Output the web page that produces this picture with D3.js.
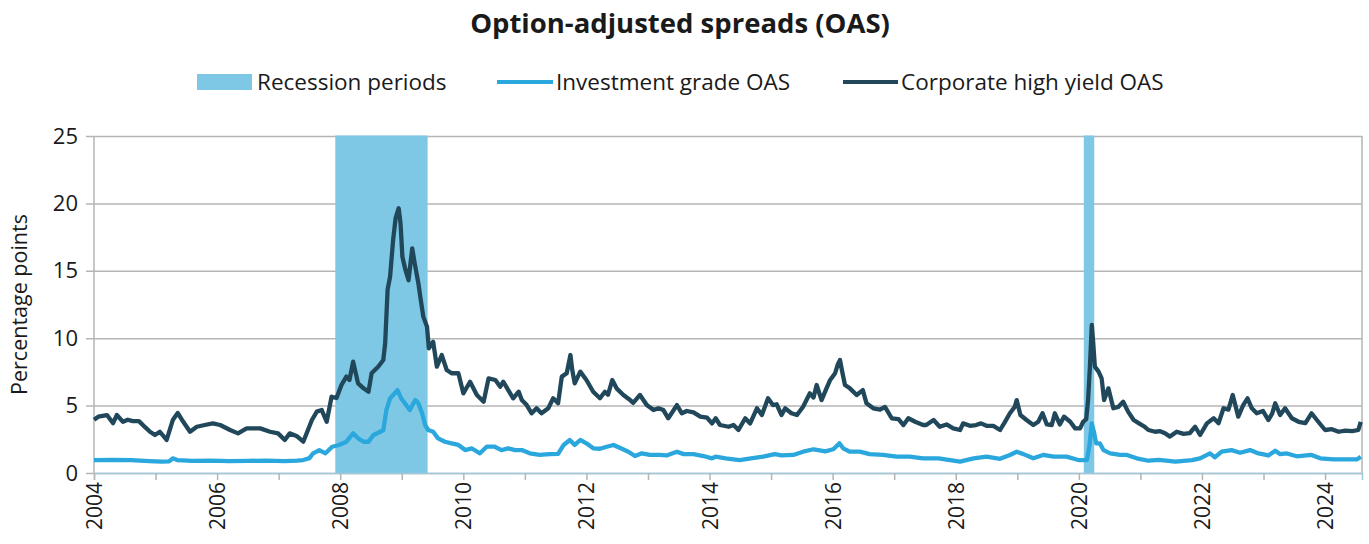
<!DOCTYPE html>
<html>
<head>
<meta charset="utf-8">
<script src="https://cdn.jsdelivr.net/npm/d3@7"></script>
<style>
  body { margin: 0; background: #fff; }
  svg text { font-family: "Open Sans", "Noto Sans", sans-serif; fill: #1a1a1a; }
</style>
</head>
<body>
<svg id="chart" width="1369" height="544"></svg>
<script>
// recession periods, decimal years
const recessions = [[2007.92, 2009.42], [2020.08, 2020.25]];

// corporate high yield OAS (percentage points)
const hyYears = [2004.00,2004.07,2004.21,2004.31,2004.37,2004.47,2004.55,2004.63,2004.73,2004.83,2004.91,2004.99,2005.07,2005.18,2005.28,2005.36,2005.45,2005.56,2005.67,2005.80,2005.93,2006.05,2006.21,2006.34,2006.48,2006.70,2006.86,2006.99,2007.10,2007.18,2007.29,2007.40,2007.54,2007.62,2007.70,2007.78,2007.86,2007.94,2008.02,2008.10,2008.15,2008.21,2008.29,2008.38,2008.46,2008.51,2008.62,2008.70,2008.73,2008.77,2008.81,2008.86,2008.90,2008.95,2008.98,2009.01,2009.06,2009.11,2009.17,2009.21,2009.27,2009.31,2009.35,2009.41,2009.44,2009.51,2009.57,2009.65,2009.73,2009.81,2009.92,2010.00,2010.11,2010.22,2010.33,2010.41,2010.52,2010.60,2010.65,2010.73,2010.81,2010.90,2010.95,2011.03,2011.11,2011.19,2011.27,2011.38,2011.46,2011.54,2011.60,2011.68,2011.74,2011.77,2011.81,2011.90,2012.00,2012.11,2012.22,2012.30,2012.35,2012.42,2012.49,2012.60,2012.71,2012.76,2012.87,2012.98,2013.09,2013.17,2013.25,2013.33,2013.47,2013.55,2013.63,2013.74,2013.85,2013.96,2014.04,2014.10,2014.17,2014.31,2014.39,2014.47,2014.58,2014.66,2014.77,2014.85,2014.95,2015.03,2015.09,2015.17,2015.23,2015.33,2015.42,2015.52,2015.63,2015.69,2015.74,2015.82,2015.90,2015.96,2016.04,2016.08,2016.12,2016.15,2016.20,2016.28,2016.39,2016.49,2016.55,2016.66,2016.77,2016.85,2016.96,2017.07,2017.15,2017.23,2017.34,2017.47,2017.52,2017.64,2017.74,2017.85,2017.96,2018.07,2018.12,2018.23,2018.33,2018.41,2018.50,2018.61,2018.72,2018.80,2018.88,2018.96,2018.99,2019.05,2019.15,2019.26,2019.34,2019.41,2019.48,2019.56,2019.61,2019.69,2019.76,2019.86,2019.94,2020.02,2020.07,2020.12,2020.15,2020.18,2020.21,2020.23,2020.26,2020.32,2020.37,2020.41,2020.48,2020.56,2020.64,2020.72,2020.80,2020.89,2020.99,2021.07,2021.13,2021.24,2021.32,2021.40,2021.48,2021.59,2021.70,2021.80,2021.89,2021.97,2022.08,2022.19,2022.27,2022.35,2022.43,2022.50,2022.59,2022.67,2022.74,2022.81,2022.89,2022.99,2023.08,2023.14,2023.19,2023.27,2023.35,2023.46,2023.57,2023.68,2023.78,2023.89,2024.00,2024.11,2024.22,2024.33,2024.44,2024.54,2024.58];
const hyValues = [3.95,4.18,4.30,3.70,4.30,3.80,3.95,3.85,3.85,3.40,3.06,2.82,3.06,2.45,3.93,4.45,3.80,3.06,3.43,3.56,3.68,3.56,3.19,2.94,3.31,3.31,3.06,2.94,2.45,2.94,2.75,2.32,3.93,4.55,4.67,3.80,5.66,5.56,6.53,7.15,6.90,8.26,6.65,6.28,6.03,7.40,7.90,8.38,9.60,13.60,14.56,17.30,18.90,19.64,18.50,16.05,15.06,14.30,16.67,15.56,14.07,12.80,11.60,10.85,9.25,9.74,7.89,8.75,7.64,7.40,7.40,5.91,6.77,5.79,5.29,7.02,6.90,6.40,6.77,6.15,5.54,6.03,5.41,5.04,4.43,4.80,4.43,4.80,5.54,5.17,7.15,7.40,8.75,7.64,6.65,7.52,6.90,6.03,5.54,6.03,5.80,6.90,6.28,5.79,5.41,5.20,5.79,5.04,4.67,4.80,4.67,4.06,5.04,4.43,4.60,4.50,4.18,4.10,3.68,4.06,3.56,3.43,3.56,3.19,4.06,3.68,4.80,4.30,5.54,5.04,5.10,4.30,4.80,4.43,4.30,4.92,5.91,5.60,6.53,5.41,6.28,6.90,7.40,8.01,8.38,7.64,6.53,6.28,5.79,6.15,5.17,4.80,4.70,4.90,4.06,4.00,3.56,4.06,3.80,3.56,3.56,3.93,3.43,3.60,3.31,3.19,3.68,3.50,3.56,3.68,3.50,3.50,3.19,3.80,4.43,4.92,5.41,4.30,3.93,3.56,3.80,4.43,3.60,3.56,4.43,3.60,4.18,3.80,3.31,3.31,3.80,4.00,5.41,7.89,10.98,9.87,7.89,7.52,7.02,5.41,6.28,4.80,4.90,5.29,4.55,3.93,3.65,3.43,3.19,3.06,3.10,2.95,2.70,3.06,2.90,2.95,3.43,2.82,3.68,4.06,3.70,4.80,4.70,5.79,4.18,5.04,5.54,4.80,4.43,4.60,3.93,4.40,5.17,4.30,4.80,4.06,3.80,3.70,4.43,3.80,3.19,3.25,3.06,3.15,3.10,3.19,3.80];

// investment grade OAS (percentage points)
const igYears = [2004.00,2004.30,2004.60,2004.90,2005.10,2005.22,2005.28,2005.36,2005.60,2005.90,2006.20,2006.50,2006.80,2007.10,2007.30,2007.40,2007.50,2007.56,2007.66,2007.76,2007.87,2007.98,2008.10,2008.21,2008.29,2008.38,2008.46,2008.54,2008.65,2008.70,2008.75,2008.81,2008.86,2008.93,2008.99,2009.05,2009.13,2009.22,2009.27,2009.33,2009.38,2009.43,2009.51,2009.59,2009.70,2009.81,2009.92,2010.03,2010.14,2010.27,2010.38,2010.51,2010.62,2010.73,2010.84,2010.95,2011.08,2011.24,2011.40,2011.54,2011.63,2011.73,2011.81,2011.90,2012.00,2012.11,2012.22,2012.33,2012.44,2012.55,2012.68,2012.79,2012.90,2013.03,2013.19,2013.30,2013.47,2013.58,2013.74,2013.90,2014.04,2014.10,2014.26,2014.49,2014.70,2014.87,2015.06,2015.17,2015.36,2015.52,2015.69,2015.79,2015.88,2016.01,2016.11,2016.17,2016.28,2016.44,2016.60,2016.82,2017.04,2017.25,2017.47,2017.72,2018.07,2018.29,2018.50,2018.72,2018.88,2018.99,2019.10,2019.26,2019.42,2019.59,2019.80,2019.99,2020.13,2020.17,2020.21,2020.25,2020.28,2020.34,2020.40,2020.51,2020.67,2020.78,2020.94,2021.13,2021.30,2021.57,2021.84,2021.97,2022.13,2022.21,2022.32,2022.48,2022.62,2022.78,2022.92,2023.08,2023.19,2023.27,2023.38,2023.54,2023.78,2023.92,2024.14,2024.36,2024.52,2024.58];
const igValues = [0.96,0.98,0.96,0.88,0.84,0.86,1.09,0.95,0.90,0.92,0.88,0.90,0.92,0.88,0.92,0.96,1.10,1.46,1.70,1.46,1.95,2.08,2.32,2.94,2.57,2.32,2.32,2.82,3.06,3.18,4.67,5.54,5.79,6.15,5.54,5.17,4.67,5.41,5.17,4.43,3.56,3.19,3.06,2.57,2.32,2.20,2.08,1.70,1.82,1.46,1.95,1.95,1.70,1.82,1.70,1.70,1.46,1.34,1.40,1.42,2.08,2.45,2.08,2.45,2.20,1.83,1.80,1.95,2.08,1.85,1.58,1.26,1.46,1.34,1.34,1.30,1.58,1.40,1.40,1.26,1.09,1.21,1.09,0.96,1.10,1.21,1.40,1.30,1.34,1.58,1.76,1.68,1.60,1.76,2.20,1.83,1.58,1.58,1.40,1.34,1.21,1.21,1.09,1.09,0.84,1.09,1.21,1.05,1.34,1.58,1.40,1.09,1.34,1.21,1.21,0.96,0.96,1.95,3.68,2.94,2.20,2.20,1.70,1.46,1.34,1.34,1.09,0.91,0.98,0.84,0.95,1.09,1.46,1.17,1.58,1.70,1.50,1.70,1.45,1.30,1.65,1.40,1.45,1.24,1.34,1.09,1.01,1.01,1.01,1.21];

const yTicks = [0, 5, 10, 15, 20, 25];
const xLabelYears = [2004, 2006, 2008, 2010, 2012, 2014, 2016, 2018, 2020, 2022, 2024];
const legendLabels = ['Recession periods', 'Investment grade OAS', 'Corporate high yield OAS'];

const colRecession = '#7fc8e5';
const colIG = '#2aa7dc';
const colHY = '#21475b';
const colGrid = '#b5b5b5';

const margin = {top: 136, right: 7, bottom: 71, left: 94};
const width = 1369, height = 544;

const svg = d3.select('#chart');

const x = d3.scaleLinear().domain([2004, 2024.6]).range([margin.left, width - margin.right]);
const y = d3.scaleLinear().domain([0, 25]).range([height - margin.bottom, margin.top]);

// title
svg.append('text')
  .attr('x', 680).attr('y', 33)
  .attr('text-anchor', 'middle')
  .style('font-size', '27.5px').style('font-weight', 'bold')
  .text('Option-adjusted spreads (OAS)');

// y gridlines + labels
const yAxis = d3.axisLeft(y).tickValues(yTicks)
  .tickSize(-(width - margin.left - margin.right))
  .tickPadding(16);
const gy = svg.append('g').attr('transform', `translate(${margin.left},0)`).call(yAxis);
gy.select('.domain').remove();
gy.selectAll('.tick line').attr('x1', -8).style('stroke', colGrid).style('stroke-width', 1.5);
gy.selectAll('.tick text').style('font-size', '22px').style('fill', '#1a1a1a');

// recession bands, drawn over the gridlines
svg.append('g').selectAll('rect')
  .data(recessions)
  .enter().append('rect')
  .attr('x', d => x(d[0]))
  .attr('width', d => x(d[1]) - x(d[0]))
  .attr('y', y(25) - 0.5)
  .attr('height', y(0) - y(25) + 0.5)
  .style('fill', colRecession);

// left and right frame lines
svg.append('line')
  .attr('x1', margin.left).attr('x2', margin.left)
  .attr('y1', y(25)).attr('y2', y(0))
  .style('stroke', colGrid).style('stroke-width', 1.5);
svg.append('line')
  .attr('x1', width - margin.right).attr('x2', width - margin.right)
  .attr('y1', y(25)).attr('y2', y(0))
  .style('stroke', colGrid).style('stroke-width', 1.5);

// x axis
const allYears = d3.range(2004, 2025);
const xAxis = d3.axisBottom(x).tickValues(allYears).tickSize(7)
  .tickFormat(d => xLabelYears.includes(d) ? d : '');
const gx = svg.append('g').attr('transform', `translate(0,${y(0)})`).call(xAxis);
gx.select('.domain').style('stroke', '#9ec9dc').style('stroke-width', 1.5);
gx.selectAll('.tick line').style('stroke', colGrid).style('stroke-width', 1.5);
gx.selectAll('.tick text')
  .style('font-size', '21px').style('fill', '#1a1a1a')
  .attr('text-anchor', 'end')
  .attr('transform', 'rotate(-90)')
  .attr('x', -9).attr('y', 0).attr('dy', '0.36em');

// y axis title
svg.append('text')
  .attr('transform', `translate(27,${(y(0) + y(25)) / 2}) rotate(-90)`)
  .attr('text-anchor', 'middle')
  .style('font-size', '21.5px')
  .text('Percentage points');

// lines
const line = d3.line().x(d => x(d[0])).y(d => y(d[1]));
const igData = igYears.map((yr, i) => [yr, igValues[i]]);
const hyData = hyYears.map((yr, i) => [yr, hyValues[i]]);

svg.append('path').datum(igData)
  .attr('d', line)
  .style('fill', 'none').style('stroke', colIG)
  .style('stroke-width', 4.3).style('stroke-linejoin', 'round');
svg.append('path').datum(hyData)
  .attr('d', line)
  .style('fill', 'none').style('stroke', colHY)
  .style('stroke-width', 4.3).style('stroke-linejoin', 'round');

// legend
const legend = svg.append('g');
legend.append('rect')
  .attr('x', 197).attr('y', 74).attr('width', 55).attr('height', 16)
  .style('fill', colRecession);
legend.append('text').attr('x', 257).attr('y', 90)
  .style('font-size', '22.5px').text(legendLabels[0]);
legend.append('line')
  .attr('x1', 497).attr('x2', 553).attr('y1', 82).attr('y2', 82)
  .style('stroke', colIG).style('stroke-width', 4);
legend.append('text').attr('x', 556).attr('y', 90)
  .style('font-size', '22.5px').text(legendLabels[1]);
legend.append('line')
  .attr('x1', 843).attr('x2', 898).attr('y1', 82).attr('y2', 82)
  .style('stroke', colHY).style('stroke-width', 4);
legend.append('text').attr('x', 901).attr('y', 90)
  .style('font-size', '22.5px').text(legendLabels[2]);
</script>
</body>
</html>
